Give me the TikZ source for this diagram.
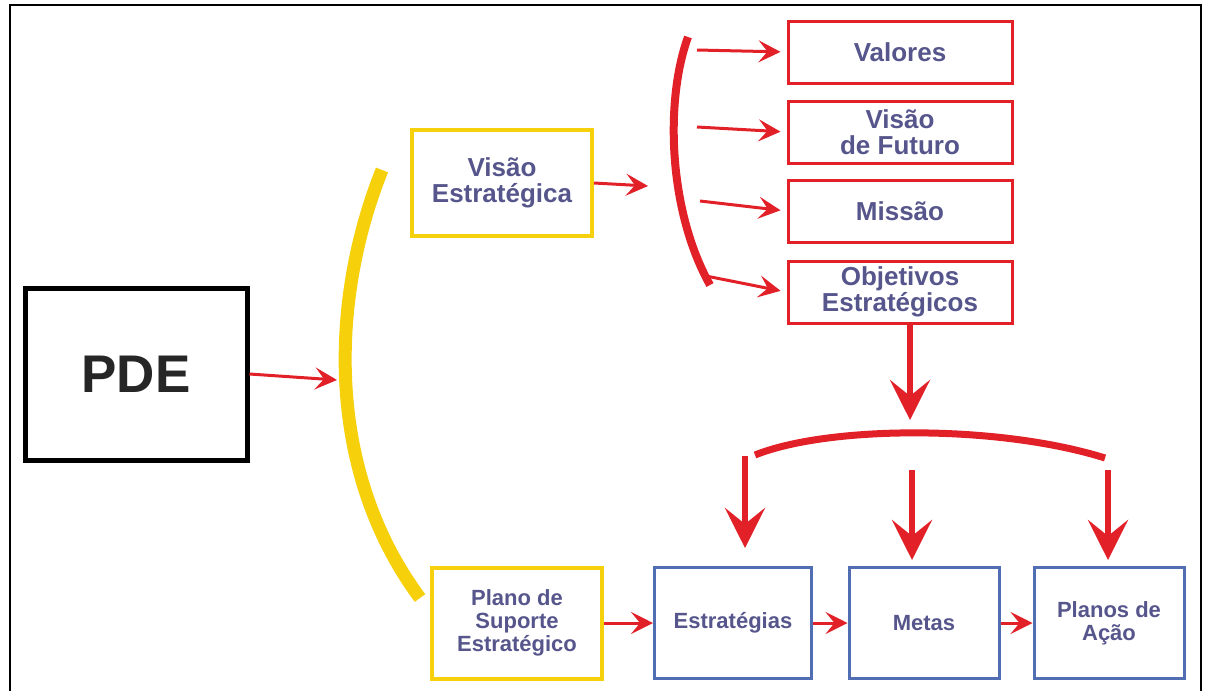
\documentclass[tikz,border=0pt]{standalone}
\usepackage{fontspec}
\setmainfont{Liberation Sans}
\usetikzlibrary{arrows.meta}

\definecolor{pdeyellow}{RGB}{247,208,12}
\definecolor{pdered}{RGB}{226,32,40}
\definecolor{pdeblue}{RGB}{82,110,178}
\definecolor{pdetext}{RGB}{86,86,140}

\begin{document}
\begin{tikzpicture}[
					x=1pt, y=-1pt,
					box/.style={draw, fill=white, line width=3pt, align=center, inner sep=0pt, text=pdetext},
					bigtext/.style={font=\fontsize{26}{26}\selectfont\bfseries},
					smalltext/.style={font=\fontsize{22}{23}\selectfont\bfseries},
					yellowbox/.style={box, draw=pdeyellow, line width=4pt},
					redbox/.style={box, draw=pdered, bigtext, minimum width=224pt, minimum height=62pt},
					bluebox/.style={box, draw=pdeblue, smalltext, minimum width=150pt, minimum height=111pt},
					flow/.style={draw=pdered, line width=3pt, -{Stealth[length=22pt,width=22pt,inset=9pt]}},
					drop/.style={draw=pdered, line width=6pt, -{Stealth[length=40pt,width=40pt,inset=16pt]}}
					]
					\useasboundingbox (0,0) rectangle (1209,691);
					\draw[line width=2.5pt] (10,691) -- (10,5) -- (1201,5) -- (1201,691);

					\node[box, draw=black, line width=5pt, text=black!85, minimum width=222pt, minimum height=172pt,
						font=\fontsize{53}{55}\selectfont\bfseries] (pde) at (136,374) {PDE};

					\node[yellowbox, bigtext, minimum width=180pt, minimum height=106pt] (visaoest) at (502,183) {Visão\\Estratégica};
					\node[yellowbox, smalltext, minimum width=170pt, minimum height=111pt] (plano) at (517,623) {Plano de\\Suporte\\Estratégico};

					\node[redbox] (valores) at (900,52) {Valores};
					\node[redbox] (visaofut) at (900,132) {Visão\\de Futuro};
					\node[redbox] (missao) at (900,211) {Missão};
					\node[redbox] (objetivos) at (900,292) {Objetivos\\Estratégicos};

					\node[bluebox, minimum width=157pt] (estrategias) at (733,623) {Estratégias};
					\node[bluebox] (metas) at (924,623) {Metas};
					\node[bluebox] (planos) at (1109,623) {Planos de\\Ação};

					% braces
					\draw[pdeyellow, line width=13pt] (382,170) .. controls (330,300) and (325,470) .. (420,598);
					\draw[pdered, line width=8pt] (688,37) .. controls (665,100) and (668,210) .. (710,285);
					\draw[pdered, line width=7pt] (755,455) .. controls (830,425) and (1000,425) .. (1105,458);

					\coordinate (yarc) at (337,380);
					\coordinate (rbrace) at (648,186);
					\coordinate (b1) at (697,50);
					\coordinate (b2) at (697,127);
					\coordinate (b3) at (700,201);
					\coordinate (b4) at (706,276);
					\coordinate (rarc) at (910,420);
					\coordinate (d1) at (745,456);
					\coordinate (d2) at (912,470);
					\coordinate (d3) at (1108,470);

					\draw[flow] (pde.east) -- (yarc);
					\draw[flow] (visaoest.east) -- (rbrace);
					\draw[flow, shorten >=6pt] (b1) -- (valores.west);
					\draw[flow, shorten >=6pt] (b2) -- (visaofut.west);
					\draw[flow, shorten >=6pt] (b3) -- (missao.west);
					\draw[flow, shorten >=6pt] (b4) -- (objetivos.west);
					\draw[drop] (objetivos.south -| rarc) -- (rarc);
					\draw[drop, shorten >=18pt] (d1) -- (d1 |- estrategias.north);
					\draw[drop, shorten >=6pt] (d2) -- (d2 |- metas.north);
					\draw[drop, shorten >=6pt] (d3) -- (d3 |- planos.north);
					\draw[flow] (plano.east) -- (estrategias.west);
					\draw[flow] (estrategias.east) -- (metas.west);
					\draw[flow] (metas.east) -- (planos.west);
				\end{tikzpicture}
\end{document}
